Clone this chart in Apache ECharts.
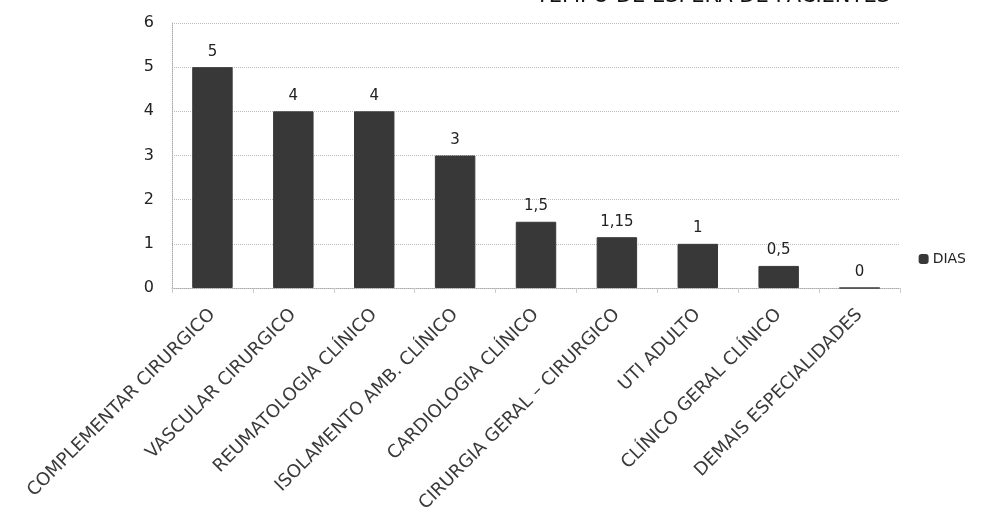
<!DOCTYPE html>
<html><head><meta charset="utf-8">
<script src="https://cdn.jsdelivr.net/npm/echarts@6/dist/echarts.min.js"></script>
<style>html,body{margin:0;padding:0;background:#fff}#c{width:989px;height:516px}</style>
</head><body><div id="c"></div>
<script>
const categories = ["COMPLEMENTAR CIRURGICO","VASCULAR CIRURGICO","REUMATOLOGIA CLÍNICO","ISOLAMENTO AMB. CLÍNICO","CARDIOLOGIA CLÍNICO","CIRURGIA GERAL – CIRURGICO","UTI ADULTO","CLÍNICO GERAL CLÍNICO","DEMAIS ESPECIALIDADES"];
const dias = [5, 4, 4, 3, 1.5, 1.15, 1, 0.5, 0];
const seriesName = "DIAS";
const titleText = "TEMPO DE ESPERA DE PACIENTES";

const chart = echarts.init(document.getElementById('c'), null, {renderer:'canvas'});
const font = 'DejaVu Sans, sans-serif';
chart.setOption({
  animation:false,
  backgroundColor:'#fff',
  title:{text:titleText, right:94, top:-19, textStyle:{fontFamily:font, fontSize:21, fontWeight:'normal', color:'#111'}},
  legend:{data:[seriesName], right:18, top:247, orient:'vertical', itemWidth:8, itemHeight:8, itemGap:4,
    textStyle:{fontFamily:font, fontSize:14, color:'#222'}},
  grid:{left:172, right:89, top:23, bottom:228, containLabel:false},
  xAxis:{type:'category', data:categories,
    axisLine:{lineStyle:{color:'#aaa', type:'dotted'}},
    axisTick:{show:true, alignWithLabel:false, length:5, lineStyle:{color:'#ccc'}},
    axisLabel:{rotate:45, interval:0, margin:24, fontFamily:font, fontSize:18, color:'#3a3a3a'},
    splitLine:{show:false}},
  yAxis:{type:'value', min:0, max:6, interval:1,
    axisLine:{show:true, lineStyle:{color:'#aaa', type:'dotted'}},
    axisTick:{show:false},
    axisLabel:{fontFamily:font, fontSize:16, color:'#222', margin:18},
    splitLine:{lineStyle:{color:'#bbb', type:'dotted'}}},
  series:[{name:seriesName, type:'bar', data:dias, barWidth:'50%',
    itemStyle:{color:'#383838', borderColor:'#383838', borderWidth:1},
    label:{show:true, position:'top', distance:8, fontFamily:font, fontSize:15, color:'#222',
      formatter:p=>String(p.value).replace('.',',')}}]
});
</script></body></html>
